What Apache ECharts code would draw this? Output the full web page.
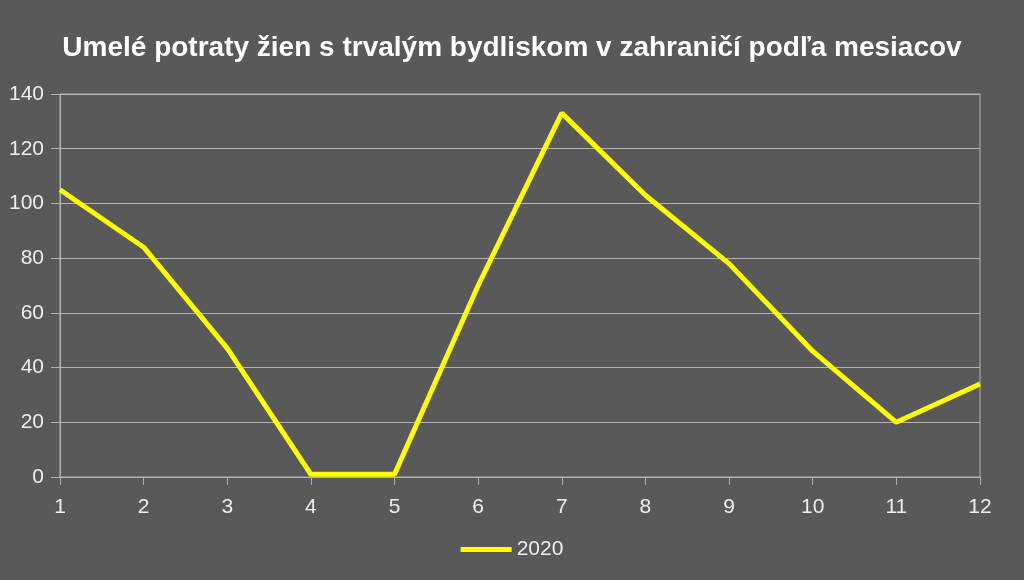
<!DOCTYPE html>
<html><head><meta charset="utf-8">
<script src="https://cdn.jsdelivr.net/npm/echarts@6/dist/echarts.min.js"></script>
<style>html,body{margin:0;padding:0;background:#595959;}#c{width:1024px;height:580px;}</style>
</head><body><div id="c"></div>
<script>
const categories = ['1','2','3','4','5','6','7','8','9','10','11','12'];
const values2020 = [105, 84, 47, 1, 1, 70, 133, 103, 78, 46, 20, 34];
const seriesName = '2020';
const titleText = 'Umelé potraty žien s trvalým bydliskom v zahraničí podľa mesiacov';
const FONT = 'Liberation Sans, Arial, sans-serif';

const chart = echarts.init(document.getElementById('c'));
chart.setOption({
  backgroundColor: '#595959',
  animation: false,
  title: {
    text: titleText, left: 'center', top: 29,
    textStyle: { color: '#ffffff', fontSize: 28, fontWeight: 'bold', fontFamily: FONT }
  },
  legend: {
    bottom: 15, left: 'center', itemWidth: 51, itemHeight: 5, icon: 'rect', itemGap: 8,
    textStyle: { color: '#eeeeee', fontSize: 21, fontFamily: FONT },
    data: [seriesName]
  },
  grid: { left: 60, right: 44, top: 94, bottom: 103, show: true, borderColor: '#b3b3b3', borderWidth: 1 },
  xAxis: {
    type: 'category', data: categories, boundaryGap: false,
    axisLine: { lineStyle: { color: '#b3b3b3' } },
    axisTick: { show: true, length: 8, alignWithLabel: true, lineStyle: { color: '#b3b3b3' } },
    axisLabel: { color: '#eeeeee', fontSize: 21, margin: 20, fontFamily: FONT }
  },
  yAxis: {
    type: 'value', min: 0, max: 140, interval: 20,
    axisLine: { show: true, lineStyle: { color: '#b3b3b3' } },
    axisTick: { show: true, length: 9, inside: false, lineStyle: { color: '#b3b3b3' } },
    splitLine: { lineStyle: { color: '#b3b3b3' } },
    axisLabel: { color: '#eeeeee', fontSize: 21, margin: 16, fontFamily: FONT }
  },
  series: [{
    name: seriesName, type: 'line', data: values2020,
    showSymbol: false, symbol: 'none',
    lineStyle: { color: '#ffff00', width: 5 },
    itemStyle: { color: '#ffff00' }
  }]
});
</script></body></html>
